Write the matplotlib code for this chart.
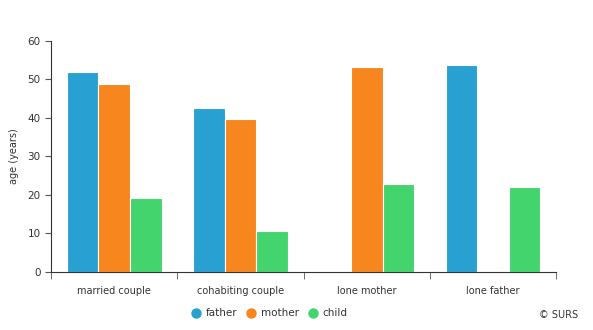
import numpy as np
import matplotlib.pyplot as plt

categories = ['married couple', 'cohabiting couple', 'lone mother', 'lone father']
father = [52, 42.6, np.nan, 53.8]
mother = [48.9, 39.8, 53.1, np.nan]
child = [19.1, 10.5, 22.9, 22.0]

colors = ['#29a0d2', '#f7861f', '#44d46d']
series = [('father', father), ('mother', mother), ('child', child)]

fig = plt.figure(figsize=(5.93, 3.30), dpi=100)
ax = fig.add_axes([0.086, 0.176, 0.852, 0.700])

x = np.arange(len(categories))
w = 0.25
for i, (name, vals) in enumerate(series):
    ax.bar(x + (i - 1) * w, vals, width=w, color=colors[i],
           edgecolor='white', linewidth=0.8, label=name)

ax.set_xlim(-0.5, len(categories) - 0.5)
ax.set_ylim(0, 60)
ax.set_yticks(range(0, 61, 10))
ax.set_xticks(x)
ax.set_xticklabels(categories)
ax.set_xticks(np.arange(-0.5, len(categories)), minor=True)
ax.tick_params(axis='x', which='major', length=0, pad=10, labelsize=7, labelcolor='#333333')
ax.tick_params(axis='x', which='minor', length=5, color='#555555')
ax.tick_params(axis='y', length=4, color='#555555', labelsize=7.5, labelcolor='#333333')

for s in ['top', 'right']:
    ax.spines[s].set_visible(False)
ax.spines['left'].set_color('#333333')
ax.spines['bottom'].set_color('#333333')

ax.set_ylabel('age (years)', fontsize=7, color='#333333', labelpad=6)

handles = [plt.Line2D([], [], marker='o', linestyle='', markersize=6.5,
                      color=c) for c in colors]
fig.legend(handles, [s[0] for s in series], loc='center', bbox_to_anchor=(0.455, 0.05),
           ncol=3, frameon=False, fontsize=7.5, handletextpad=0.55, columnspacing=0.9,
           handlelength=0.8, labelcolor='#333333')

fig.text(0.975, 0.045, '© SURS', ha='right', va='center', fontsize=7, color='#333333')

plt.savefig('out.png', dpi=100)
